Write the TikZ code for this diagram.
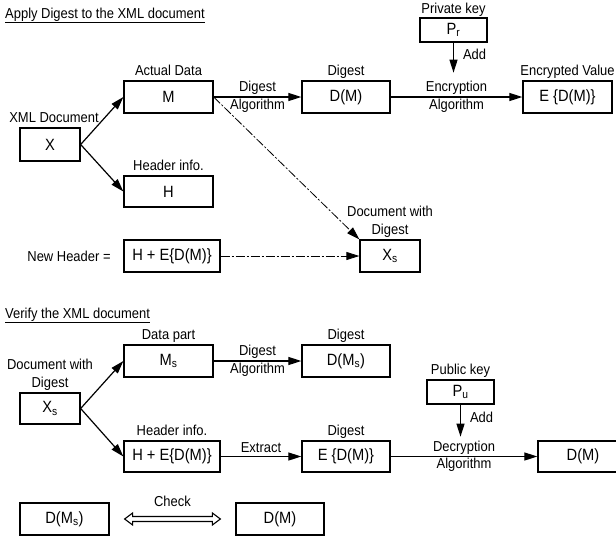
\documentclass[tikz,border=0pt]{standalone}
\usepackage{fontspec}
\setmainfont{Liberation Sans}[FakeStretch=0.9]
\usetikzlibrary{positioning,arrows.meta,calc}

\tikzset{
  box/.style={draw, line width=1.3pt, minimum width=89, minimum height=32, inner sep=0pt,
    font=\fontsize{16.3}{18}\selectfont},
  keybox/.style={box, minimum width=67, minimum height=24},
  lbl/.style={inner sep=0pt, text depth=0pt, align=center, font=\fontsize{14.4}{17.3}\selectfont},
  flow/.style={-{Triangle[length=13pt,width=8pt]}, line width=1.2pt},
  dashflow/.style={flow, line width=0.8pt, dash pattern=on 9pt off 2pt on 2pt off 2pt},
}

\begin{document}
\begin{tikzpicture}[x=1pt, y=-1pt]
  \useasboundingbox (0,0) rectangle (616,539);
  % Apply part: the boxes.
  \node[lbl, anchor=west] (applyttl) at (5,13) {\underline{Apply Digest to the XML document}};
  \node[box, minimum width=60, minimum height=33] (x) at (50,144.5) {X};
  \node[box] (m) at (168.5,97) {M};
  \node[box, minimum height=31] (h) at (168.5,191.5) {H};
  \node[box, minimum width=96] (newhdr) at (172,256) {H + E\{D(M)\}};
  \node[box, minimum width=88] (dm) at (346,97) {D(M)};
  \node[keybox] (pr) at (453.5,30) {P\textsubscript{r}};
  \node[box] (edm) at (567.5,97) {E \{D(M)\}};
  \node[box, minimum width=60] (xs) at (390,256) {X\textsubscript{s}};
  % Their labels.
  \node[lbl, above=5pt of x, xshift=4] (xlbl) {XML Document};
  \node[lbl, above=5pt of m] (mlbl) {Actual Data};
  \node[lbl, above=5pt of h] (hlbl) {Header info.};
  \node[lbl, above=5pt of dm] (dmlbl) {Digest};
  \node[lbl, above=4pt of pr] (prlbl) {Private key};
  \node[lbl, above=5pt of edm] (edmlbl) {Encrypted Value};
  \node[lbl, above=5pt of xs] (xslbl) {Document with\\Digest};
  \node[lbl, anchor=base] (nhlbl) at (69,261) {New Header =};
  % The arrows.
  \draw[flow] (x.east) -- (m.west);
  \draw[flow] (x.east) -- (h.west);
  \draw[flow] (m.east) -- node[lbl, yshift=1.8] (dalg) {Digest\\Algorithm} (dm.west);
  \draw[flow] (dm.east) -- node[lbl, yshift=1.8] (ealg) {Encryption\\Algorithm} (edm.west);
  \coordinate (praddend) at ($(pr.south)+(0,30)$);
  \draw[flow] (pr.south) -- node[lbl, right=9pt, pos=0.4] (pradd) {Add} (praddend);
  \draw[dashflow] (m.east) -- (xs.north west);
  \draw[dashflow] (newhdr.east) -- (xs.west);

  % Verify part: the boxes.
  \node[lbl, anchor=west] (verifyttl) at (5,313) {\underline{Verify the XML document}};
  \node[box, minimum width=60, minimum height=31] (xs2) at (50,408.5) {X\textsubscript{s}};
  \node[box] (ms) at (168.5,361) {M\textsubscript{s}};
  \node[box, minimum width=88] (dms) at (346,361) {D(M\textsubscript{s})};
  \node[box, minimum width=96, minimum height=31] (hedm) at (172,456.5) {H + E\{D(M)\}};
  \node[box, minimum width=88, minimum height=31] (edm2) at (346,456.5) {E \{D(M)\}};
  \node[keybox] (pu) at (460.5,392) {P\textsubscript{u}};
  \node[box, minimum width=90, minimum height=31] (dm2) at (583,456.5) {D(M)};
  \node[box] (dms3) at (64.5,519) {D(M\textsubscript{s})};
  \node[box, minimum width=88] (dm3) at (280,519) {D(M)};
  % Their labels.
  \node[lbl, above=5pt of xs2] (xs2lbl) {Document with\\Digest};
  \node[lbl, above=5pt of ms] (mslbl) {Data part};
  \node[lbl, above=5pt of dms] (dmslbl) {Digest};
  \node[lbl, above=5pt of hedm] (hedmlbl) {Header info.};
  \node[lbl, above=5pt of edm2] (edm2lbl) {Digest};
  \node[lbl, above=5pt of pu] (pulbl) {Public key};
  % The arrows.
  \draw[flow] (xs2.east) -- (ms.west);
  \draw[flow] (xs2.east) -- (hedm.west);
  \draw[flow] (ms.east) -- node[lbl, yshift=1.8] (dalg2) {Digest\\Algorithm} (dms.west);
  \draw[flow] (hedm.east) -- node[lbl, above=3pt] (extr) {Extract} (edm2.west);
  \draw[flow] (edm2.east) -- node[lbl, yshift=1.8] (dcalg) {Decryption\\Algorithm} (dm2.west);
  \coordinate (puaddend) at ($(pu.south)+(0,32)$);
  \draw[flow] (pu.south) -- node[lbl, right=9pt, pos=0.4] (puadd) {Add} (puaddend);
  % The hollow check arrow.
  \coordinate (ckl) at ($(dms3.east)+(15,0)$);
  \coordinate (ckr) at ($(dm3.west)+(-15,0)$);
  \draw[line width=1.1pt] (ckl) -- ++(8,-6) -- ++(0,3.5) -- ($(ckr)+(-8,-2.5)$) -- ++(0,-3.5)
    -- (ckr) -- ++(-8,6) -- ++(0,-3.5) -- ($(ckl)+(8,2.5)$) -- ++(0,3.5) -- cycle;
  \path (ckl) -- node[lbl, above=12pt] (chk) {Check} (ckr);
\end{tikzpicture}
\end{document}
